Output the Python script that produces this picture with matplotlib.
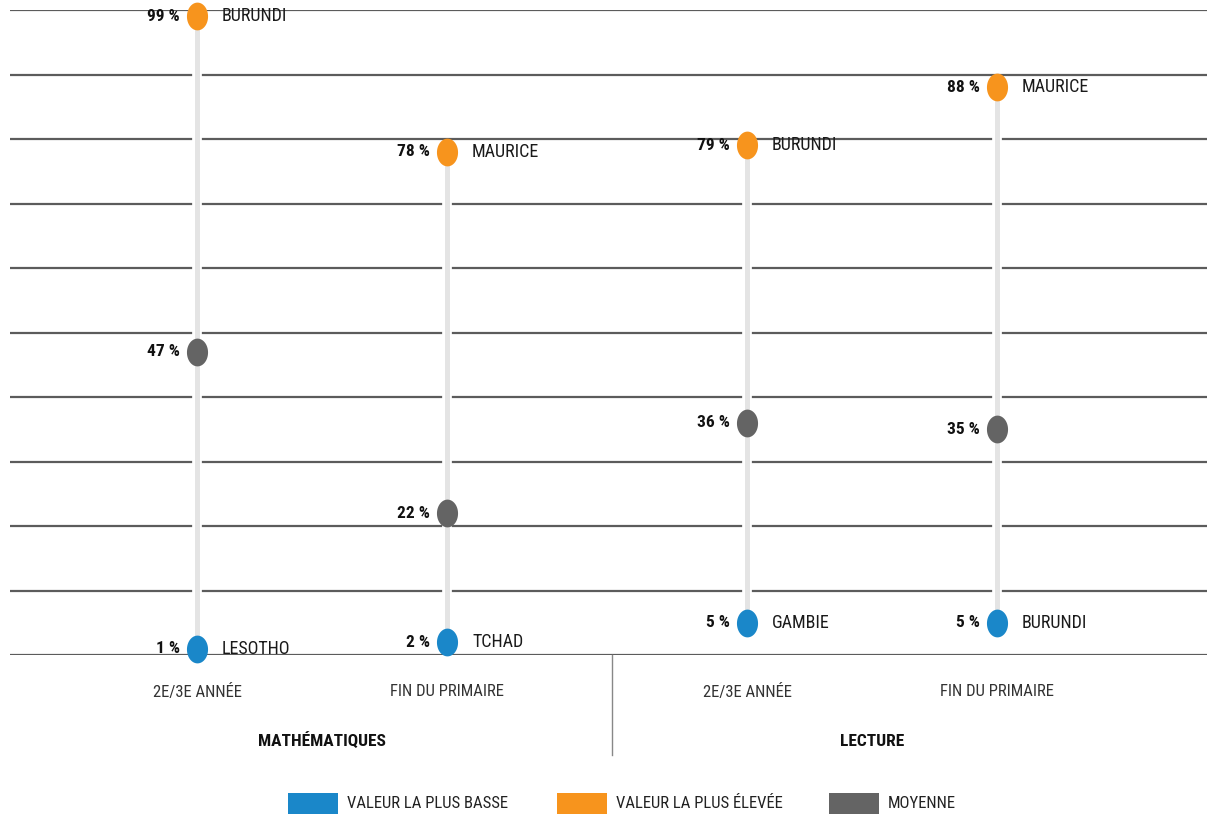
import numpy as np
import matplotlib
matplotlib.use("Agg")
import matplotlib.pyplot as plt
from matplotlib import font_manager
from matplotlib.path import Path
from matplotlib.patches import Rectangle

# ---- data -----------------------------------------------------------------
groups = ["MATHÉMATIQUES", "LECTURE"]
grades = ["2E/3E ANNÉE", "FIN DU PRIMAIRE", "2E/3E ANNÉE", "FIN DU PRIMAIRE"]
low_vals = [1, 2, 5, 5]
low_countries = ["LESOTHO", "TCHAD", "GAMBIE", "BURUNDI"]
high_vals = [99, 78, 79, 88]
high_countries = ["BURUNDI", "MAURICE", "BURUNDI", "MAURICE"]
mean_vals = [47, 22, 36, 35]
legend_labels = ["VALEUR LA PLUS BASSE", "VALEUR LA PLUS ÉLEVÉE", "MOYENNE"]

BLUE = "#1a87c9"
ORANGE = "#f7941d"
GREY = "#646464"
STEM = "#e4e4e4"
GRID = "#5c5c5c"

# pick a narrow face if one is installed
names = {f.name for f in font_manager.fontManager.ttflist}
narrow = [n for n in ["Liberation Sans Narrow", "Roboto Condensed", "Open Sans Condensed"] if n in names]
plt.rcParams["font.family"] = narrow + ["DejaVu Sans"]

# vertical ellipse marker (the reference dots are slightly taller than wide)
t = np.linspace(0, 2 * np.pi, 60)
ellipse = Path(np.column_stack([0.38 * np.cos(t), 0.5 * np.sin(t)]), closed=True)

# column positions: two per subject, wider gap between subjects
xpos = np.array([0.0, 1.0, 2.2, 3.2])

fig = plt.figure(figsize=(12.07, 8.17), dpi=100)
ax = fig.add_axes([10 / 1207, 1 - 655 / 817, 1 - 10 / 1207, 645 / 817])
ax.set_xlim(-0.748, 4.04)
ax.set_ylim(0, 100)
ax.axis("off")

ax.hlines(np.arange(0, 101, 10), -0.748, 4.04, color=GRID, lw=1.6, zorder=1)
ax.vlines(xpos, low_vals, high_vals, color="white", lw=7, zorder=2)
ax.vlines(xpos, low_vals, high_vals, color=STEM, lw=3.6, zorder=2)

ms = 20
for vals, col in [(low_vals, BLUE), (high_vals, ORANGE), (mean_vals, GREY)]:
    ax.plot(xpos, vals, ls="none", marker=ellipse, ms=ms, color=col, mew=0,
            zorder=3, clip_on=False)

dx_l = 17 / 250
dx_r = 25 / 250
for x, lo, lc, hi, hc, mn in zip(xpos, low_vals, low_countries, high_vals, high_countries, mean_vals):
    for v in (lo, hi, mn):
        ax.text(x - dx_l, v, f"{v} %", ha="right", va="center", fontsize=12.5,
                fontweight="bold", color="#111111")
    ax.text(x + dx_r, lo, lc, ha="left", va="center", fontsize=13, color="#1a1a1a")
    ax.text(x + dx_r, hi, hc, ha="left", va="center", fontsize=13, color="#1a1a1a")

xt = ax.get_xaxis_transform()
for x, g in zip(xpos, grades):
    ax.text(x, -37 / 645, g, transform=xt, ha="center", va="center", fontsize=12,
            color="#333333")
for x, g in zip([xpos[:2].mean(), xpos[2:].mean()], groups):
    ax.text(x, -86 / 645, g, transform=xt, ha="center", va="center", fontsize=12.5,
            fontweight="bold", color="#111111")
ax.plot([(612 - 197) / 250] * 2, [0, -100 / 645], transform=xt, color="#888888",
        lw=1.0, clip_on=False)

# legend, laid out by hand
W, H = 1207, 817
for (x0, col), lab in zip([(288, BLUE), (557, ORANGE), (829, GREY)], legend_labels):
    fig.add_artist(Rectangle((x0 / W, 1 - 814 / H), 50 / W, 21 / H,
                             transform=fig.transFigure, color=col, lw=0))
    fig.text((x0 + 59) / W, 1 - 803 / H, lab, ha="left", va="center", fontsize=12,
             color="#222222")

fig.savefig("out.png", dpi=100)
